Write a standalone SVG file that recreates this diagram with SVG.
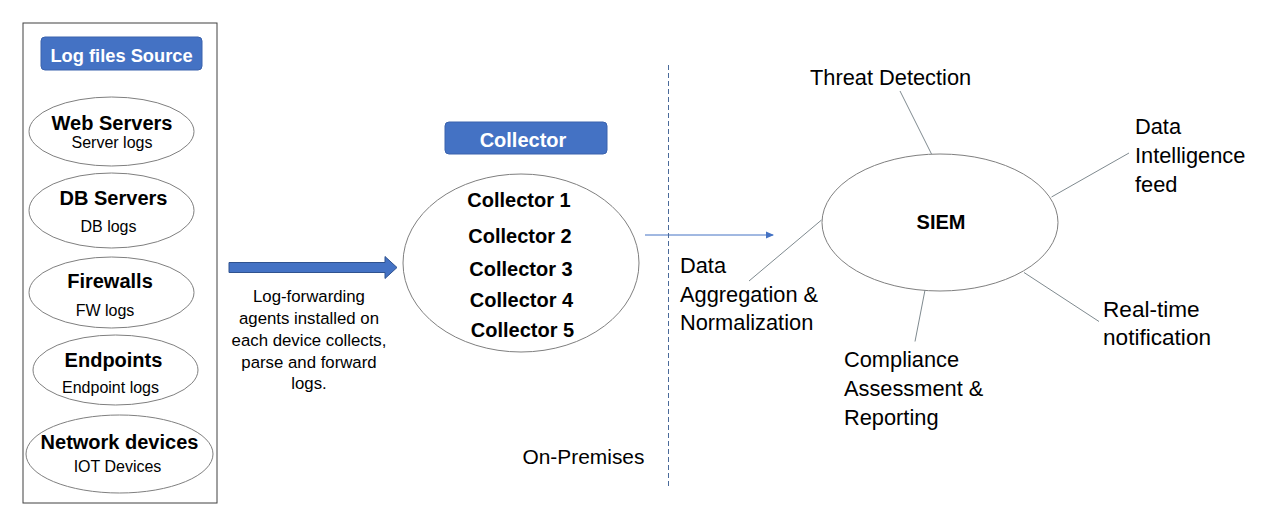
<svg xmlns="http://www.w3.org/2000/svg" width="1263" height="526" viewBox="0 0 1263 526">
<style>
text{font-family:"Liberation Sans",Arial,sans-serif;fill:#000}
.b{font-weight:bold;font-size:20px;text-anchor:middle}
.s{font-size:16px;text-anchor:middle}
.f{font-size:16.8px;text-anchor:middle}
.t{font-weight:bold;font-size:18.3px;fill:#fff;text-anchor:middle}
.r{font-size:21.8px}
.ell{fill:#fff;stroke:#7f7f7f;stroke-width:1}
.lbl{fill:#4472C4;stroke:#3a62ad;stroke-width:1}
.con{stroke:#7f8a8f;stroke-width:1;fill:none}
</style>
<defs>
<marker id="ah" markerWidth="8" markerHeight="8" refX="7" refY="4" orient="auto" markerUnits="userSpaceOnUse">
<path d="M0,0.5 L8,4 L0,7.5 Z" fill="#4472C4"/>
</marker>
</defs>
<rect width="1263" height="526" fill="#fff"/>

<g id="sources">
<rect x="23" y="23" width="194" height="480" fill="#fff" stroke="#404040" stroke-width="1"/>
<rect class="lbl" x="41" y="37" width="161" height="33" rx="4"/>
<text class="t" x="121.5" y="62">Log files Source</text>
</g>
<g id="web">
<ellipse class="ell" cx="111.5" cy="131.5" rx="82.5" ry="34.5"/>
<text class="b" x="112" y="130">Web Servers</text>
<text class="s" x="112" y="148">Server logs</text>
</g>
<g id="db">
<ellipse class="ell" cx="111.5" cy="210.5" rx="82.5" ry="37.5"/>
<text class="b" x="113.5" y="205">DB Servers</text>
<text class="s" x="108.5" y="232">DB logs</text>
</g>
<g id="fw">
<ellipse class="ell" cx="111.5" cy="292.5" rx="82.5" ry="35.5"/>
<text class="b" x="110" y="288">Firewalls</text>
<text class="s" x="105" y="316">FW logs</text>
</g>
<g id="ep">
<ellipse class="ell" cx="115.5" cy="370" rx="82.5" ry="35"/>
<text class="b" x="113.5" y="367">Endpoints</text>
<text class="s" x="110.5" y="393">Endpoint logs</text>
</g>
<g id="net">
<ellipse class="ell" cx="119.5" cy="454" rx="93.5" ry="39"/>
<text class="b" x="119.5" y="449">Network devices</text>
<text class="s" x="117.5" y="472">IOT Devices</text>
</g>

<g id="forward">
<text class="f" x="309" y="302">Log-forwarding</text>
<text class="f" x="309" y="324">agents installed on</text>
<text class="f" x="309" y="346">each device collects,</text>
<text class="f" x="309" y="368">parse and forward</text>
<text class="f" x="309" y="389">logs.</text>
</g>

<g id="collector">
<rect class="lbl" x="445" y="122" width="162" height="32" rx="4"/>
<text class="b" x="523" y="147" style="fill:#fff">Collector</text>
<ellipse class="ell" cx="521" cy="263" rx="118" ry="89"/>
<text class="b" x="519" y="207">Collector 1</text>
<text class="b" x="520" y="243">Collector 2</text>
<text class="b" x="521" y="276">Collector 3</text>
<text class="b" x="521.5" y="307">Collector 4</text>
<text class="b" x="522.5" y="337">Collector 5</text>
</g>

<g id="siem">
<ellipse class="ell" cx="940" cy="222.5" rx="118" ry="68.5"/>
<text class="b" x="941" y="229">SIEM</text>
</g>

<g id="labels">
<text class="r" x="810" y="85">Threat Detection</text>
<text class="r" x="1135" y="134">Data</text>
<text class="r" x="1135" y="163">Intelligence</text>
<text class="r" x="1135" y="192">feed</text>
<text class="r" x="1103" y="317" style="font-size:22.6px">Real-time</text>
<text class="r" x="1103" y="345" style="font-size:22.6px">notification</text>
<text class="r" x="844" y="367">Compliance</text>
<text class="r" x="844" y="396">Assessment &amp;</text>
<text class="r" x="844" y="425">Reporting</text>
<text class="r" x="680" y="273">Data</text>
<text class="r" x="680" y="302">Aggregation &amp;</text>
<text class="r" x="680" y="330">Normalization</text>
<text class="r" x="522.5" y="464" style="font-size:20.9px">On-Premises</text>
</g>

<g id="connectors">
<path d="M229,262.5 L385,262.5 L385,256.5 L397,267.5 L385,278.5 L385,272.5 L229,272.5 Z" fill="#4472C4" stroke="#2F528F" stroke-width="1"/>
<line x1="645" y1="235" x2="773" y2="235" stroke="#4472C4" stroke-width="1" marker-end="url(#ah)"/>
<line x1="668.5" y1="65" x2="668.5" y2="488" stroke="#4a6a9a" stroke-width="1" stroke-dasharray="5,3"/>
<line class="con" x1="900" y1="91" x2="931.5" y2="154"/>
<line class="con" x1="1051.5" y1="197" x2="1129" y2="153"/>
<line class="con" x1="1024" y1="272.5" x2="1099" y2="321.5"/>
<line class="con" x1="925" y1="290" x2="915" y2="341.5"/>
<line class="con" x1="821.5" y1="220" x2="749" y2="281"/>
</g>
</svg>
